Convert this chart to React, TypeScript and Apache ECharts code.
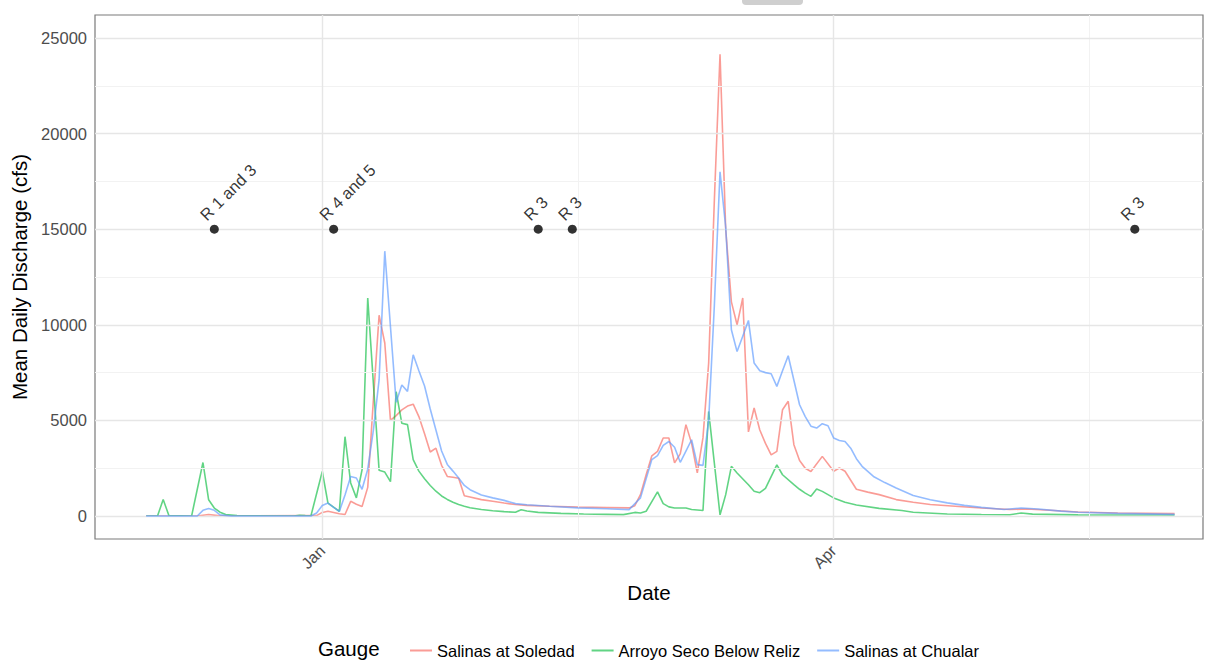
import React, { useEffect, useRef } from "react";
import * as echarts from "echarts";

// x values are days since 1 Jan 1995 (negative = December 1994)
const soledad: [number, number][] = [
  [-31, 0], [-22, 0], [-20, 80], [-18, 10], [-1, 20], [0, 190], [1, 250], [3, 120], [4, 80],
  [5, 770], [6, 620], [7, 500], [8, 1500], [9, 6100], [10, 10500], [11, 9050], [12, 5000],
  [13, 5250], [14, 5550], [15, 5750], [16, 5850], [17, 5200], [18, 4300], [19, 3350], [20, 3550],
  [21, 2650], [22, 2070], [23, 2030], [24, 1980], [25, 1060], [26, 1000], [28, 860], [30, 770],
  [32, 680], [34, 600], [36, 560], [40, 510], [45, 475], [50, 450], [54, 425], [55, 540],
  [56, 1120], [57, 2160], [58, 3150], [59, 3380], [60, 4080], [61, 4080], [62, 2780], [63, 3250],
  [64, 4780], [65, 3800], [66, 2260], [67, 4100], [68, 8000], [69, 16500], [70, 24150], [71, 15000],
  [72, 11200], [73, 10000], [74, 11400], [75, 4400], [76, 5650], [77, 4500], [78, 3800], [79, 3200],
  [80, 3380], [81, 5560], [82, 6000], [83, 3730], [84, 2900], [85, 2500], [86, 2330], [88, 3120],
  [90, 2340], [91, 2510], [92, 2340], [94, 1400], [96, 1250], [98, 1120], [101, 860], [104, 720],
  [107, 600], [112, 500], [116, 420], [121, 340], [124, 370], [128, 300], [133, 215], [140, 160],
  [150, 125],
];

const arroyoSeco: [number, number][] = [
  [-31, 0], [-29, 0], [-28, 870], [-27, 30], [-23, 0], [-21, 2800], [-20, 850], [-19, 420],
  [-18, 200], [-17, 80], [-15, 20], [-5, 0], [-4, 40], [-3, 20], [-2, 10], [0, 2330], [1, 680],
  [3, 250], [4, 4150], [5, 1730], [6, 950], [7, 2420], [8, 11400], [10, 2390], [11, 2300],
  [12, 1800], [13, 6500], [14, 4850], [15, 4780], [16, 2950], [17, 2350], [18, 1950], [19, 1600],
  [20, 1300], [21, 1050], [22, 870], [23, 720], [24, 600], [25, 510], [26, 430], [28, 340],
  [30, 280], [32, 230], [34, 200], [35, 330], [36, 260], [38, 190], [42, 140], [46, 110], [50, 90],
  [53, 75], [55, 190], [56, 160], [57, 250], [59, 1260], [60, 650], [61, 480], [62, 420], [64, 420],
  [65, 340], [67, 290], [68, 5470], [70, 60], [71, 1120], [72, 2600], [73, 2250], [75, 1640],
  [76, 1300], [77, 1220], [78, 1450], [80, 2680], [81, 2160], [83, 1640], [84, 1400], [85, 1200],
  [86, 1030], [87, 1420], [88, 1290], [90, 950], [92, 720], [94, 580], [98, 400], [102, 290],
  [104, 200], [110, 110], [116, 85], [121, 70], [123, 160], [125, 100], [133, 60], [150, 55],
];

const chualar: [number, number][] = [
  [-31, 0], [-22, 0], [-21, 300], [-20, 390], [-19, 300], [-18, 60], [-16, 0], [-2, 0], [-1, 160],
  [0, 550], [1, 680], [2, 450], [3, 240], [4, 1100], [5, 2070], [6, 1990], [7, 1400], [8, 2450],
  [9, 4500], [10, 7130], [11, 13850], [13, 5950], [14, 6850], [15, 6520], [16, 8430], [17, 7600],
  [18, 6800], [19, 5600], [20, 4500], [21, 3400], [22, 2700], [23, 2350], [24, 1990], [25, 1600],
  [26, 1380], [28, 1100], [30, 950], [32, 820], [34, 650], [36, 590], [40, 510], [45, 430],
  [50, 380], [54, 335], [56, 950], [58, 2950], [59, 3160], [60, 3700], [61, 3900], [62, 3600],
  [63, 2810], [64, 3400], [65, 3990], [66, 2690], [67, 2650], [68, 5000], [69, 11000], [70, 18000],
  [71, 15100], [72, 9740], [73, 8600], [74, 9400], [75, 10230], [76, 8000], [77, 7600], [78, 7500],
  [79, 7440], [80, 6780], [81, 7600], [82, 8380], [83, 7100], [84, 5820], [85, 5200], [86, 4700],
  [87, 4600], [88, 4830], [89, 4720], [90, 4080], [91, 3950], [92, 3900], [93, 3550], [94, 3000],
  [95, 2600], [97, 2070], [99, 1750], [101, 1470], [104, 1070], [107, 850], [110, 690], [113, 560],
  [116, 455], [120, 340], [123, 420], [126, 370], [130, 260], [133, 195], [140, 140], [150, 90],
];

const gaugeNames = ["Salinas at Soledad", "Arroyo Seco Below Reliz", "Salinas at Chualar"];
const gaugeColors = ["rgba(248,118,109,0.72)", "rgba(0,186,56,0.62)", "rgba(97,156,255,0.68)"];

const eventDays = [-19, 2, 38, 44, 143];
const eventLabels = ["R 1 and 3", "R 4 and 5", "R 3", "R 3", "R 3"];
const eventLevel = 15000;

const xTickDays = [0, 90];
const xTickLabels = ["Jan", "Apr"];
const xMinorDays = [45, 135];
const yTicks = [0, 5000, 10000, 15000, 20000, 25000];
const yMinor = [2500, 7500, 12500, 17500, 22500];

const FONT = "'Liberation Sans', Arial, Helvetica, sans-serif";

export default function App() {
  const ref = useRef<HTMLDivElement>(null);
  useEffect(() => {
    if (!ref.current) return;
    const chart = echarts.init(ref.current, null, { renderer: "svg" });
    const major = { color: "#e6e6e6", width: 1.4, type: "solid" };
    const minor = { color: "#f2f2f2", width: 1, type: "solid" };
    const gridLines = [
      ...yMinor.map((v) => ({ yAxis: v, lineStyle: minor })),
      ...xMinorDays.map((v) => ({ xAxis: v, lineStyle: minor })),
      ...yTicks.map((v) => ({ yAxis: v, lineStyle: major })),
      ...xTickDays.map((v) => ({ xAxis: v, lineStyle: major })),
    ];
    const seriesData = [soledad, arroyoSeco, chualar];
    const option: any = {
      animation: false,
      textStyle: { fontFamily: FONT },
      grid: {
        left: 95, right: 12, top: 15, bottom: 121,
        show: true, borderColor: "#7a7a7a", borderWidth: 1.2, backgroundColor: "#ffffff",
      },
      legend: {
        data: gaugeNames,
        left: 405, top: 637,
        itemWidth: 22, itemHeight: 2, itemGap: 17,
        icon: "rect",
        textStyle: { fontSize: 16.5, color: "#000", fontFamily: FONT },
      },
      graphic: [
        { type: "text", left: 318, top: 638, style: { text: "Gauge", fontSize: 20.5, fill: "#000", fontFamily: FONT } },
        { type: "rect", shape: { x: 742, y: -6, width: 61, height: 11, r: 4 }, style: { fill: "#cfcfcf" } },
      ],
      xAxis: {
        type: "value", min: -40, max: 155,
        name: "Date", nameLocation: "middle", nameGap: 43,
        nameTextStyle: { fontSize: 20.5, color: "#000", fontFamily: FONT },
        axisLine: { show: false },
        axisTick: { show: true, customValues: xTickDays, length: 4, lineStyle: { color: "#333" } },
        axisLabel: {
          customValues: xTickDays, rotate: 45, fontSize: 16, color: "#4d4d4d", margin: 9,
          formatter: (v: number) => { const i = xTickDays.indexOf(v); return i >= 0 ? xTickLabels[i] : ""; },
        },
        splitLine: { show: false },
      },
      yAxis: {
        type: "value", min: -1200, max: 26200,
        name: "Mean Daily Discharge (cfs)", nameLocation: "middle", nameGap: 61,
        nameTextStyle: { fontSize: 20.5, color: "#000", fontFamily: FONT },
        axisLine: { show: false },
        axisTick: { show: true, customValues: yTicks, length: 4, lineStyle: { color: "#333" } },
        axisLabel: {
          customValues: yTicks, fontSize: 16.5, color: "#4d4d4d", margin: 8,
          formatter: (v: number) => (yTicks.indexOf(v) >= 0 ? String(v) : ""),
        },
        splitLine: { show: false },
      },
      series: [
        {
          name: "__grid", type: "line", data: [], z: 1, silent: true,
          markLine: { silent: true, symbol: ["none", "none"], label: { show: false }, animation: false, data: gridLines },
        },
        ...gaugeNames.map((n, i) => ({
          name: n, type: "line", data: seriesData[i], showSymbol: false, symbol: "none",
          color: gaugeColors[i], lineStyle: { width: 1.6, color: gaugeColors[i] }, z: 3 + i,
        })),
        {
          name: "events", type: "scatter", z: 10, symbol: "circle", symbolSize: 9,
          itemStyle: { color: "#000" },
          data: eventDays.map((d, i) => ({ value: [d, eventLevel], name: eventLabels[i] })),
          label: {
            show: true, formatter: "{b}", position: "inside", rotate: 45, align: "left",
            verticalAlign: "bottom", offset: [0, -8], fontSize: 16.5, color: "#000", fontFamily: FONT,
          },
        },
      ],
    };
    chart.setOption(option);
    return () => chart.dispose();
  }, []);
  return <div ref={ref} style={{ position: "absolute", left: 0, top: 0, width: 1215, height: 660 }} />;
}
